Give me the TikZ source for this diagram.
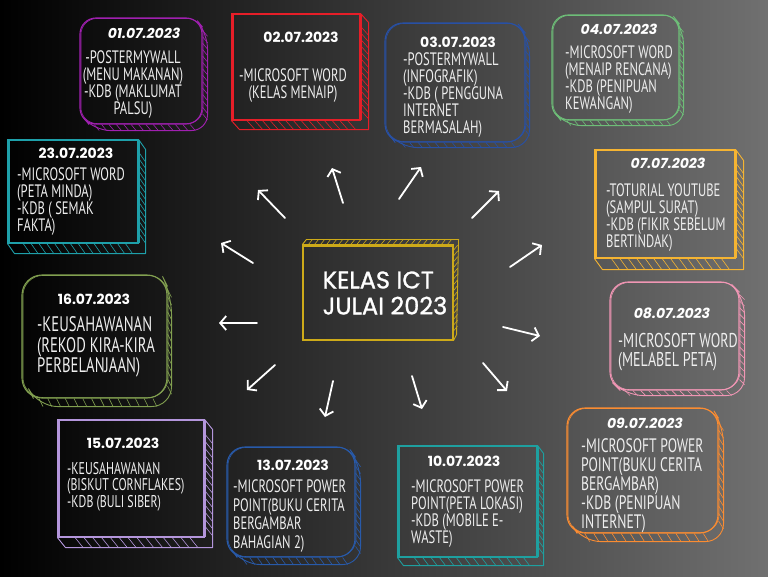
\documentclass[tikz,border=0pt]{standalone}
\usepackage{fontspec}
\usepackage{tikz}
\usetikzlibrary{calc,arrows.meta}
\newfontfamily\bodyfont[FakeStretch=0.7]{PT Sans}
\newfontfamily\datefont{Poppins}
\newfontfamily\titlefont[FakeBold=1.2]{Poppins}
\definecolor{bgright}{RGB}{112,112,112}
\definecolor{txt}{RGB}{238,238,238}
\definecolor{gold}{RGB}{205,170,25}
\definecolor{purple01}{RGB}{160,32,176}
\definecolor{red02}{RGB}{230,30,40}
\definecolor{blue03}{RGB}{40,80,165}
\definecolor{green04}{RGB}{110,190,120}
\definecolor{yellow07}{RGB}{245,180,50}
\definecolor{pink08}{RGB}{240,150,180}
\definecolor{orange09}{RGB}{250,140,50}
\definecolor{teal10}{RGB}{30,160,160}
\definecolor{blue13}{RGB}{40,90,170}
\definecolor{lilac15}{RGB}{180,150,220}
\definecolor{olive16}{RGB}{130,160,80}
\definecolor{teal23}{RGB}{30,160,170}

\newcommand\rimbox[5]{%
  \draw[#2, line width=.9pt, rounded corners=#5pt, line join=round]
    ($(#1.north east)+(0,#5*.6)$) -- ++(#3,#4) -- ($(#1.south east)+(#3,#4)$)
    -- ($(#1.south west)+(#3,#4)+(#5*.6,0)$) -- ($(#1.south west)+(#5*.6,0)$);
  \foreach \t in {.12,.18,...,.92}{
    \draw[#2, line width=.6pt] ($(#1.north east)!\t!(#1.south east)$) -- ++(#3,#4);
    \draw[#2, line width=.6pt] ($(#1.south west)!\t!(#1.south east)$) -- ++(#3,#4);
  }
  \draw[#2, line width=.6pt, rounded corners=#5pt]
    ($(#1.north west)+(1.5,1)$) rectangle ($(#1.south east)+(.5,-1)$);
}

\begin{document}
\begin{tikzpicture}[x=1pt,y=-1pt,
  card/.style={draw=#1, line width=1.1pt, inner sep=0pt},
  datelbl/.style={text=white, inner sep=0pt, font=\datefont\bfseries\fontsize{14}{16}\selectfont},
  datesl/.style={datelbl, font=\datefont\bfseries\itshape\fontsize{14}{16}\selectfont},
  body/.style={text=txt, align=left, inner sep=0pt, anchor=west, font=\bodyfont\fontsize{18}{17}\selectfont},
  arr/.style={white, line width=1.8pt, line cap=round, -{Straight Barb[length=6pt,width=14pt]}}]
  \useasboundingbox (0,0) rectangle (768,576);
  \shade[left color=black, right color=bgright] (0,0) rectangle (768,576);

  % centre
  \node[draw=gold, line width=1.1pt, inner sep=0pt, minimum width=150pt, minimum height=95pt] (hub) at (378,292.5) {};
  \draw[gold, line width=.9pt, line join=round] (hub.north west) -- ++(4,-5) -- ($(hub.north east)+(5,-5)$)
    -- ($(hub.south east)+(3,-6)$) -- (hub.south east);
  \foreach \t in {.04,.08,...,.97}
    \draw[gold, line width=.6pt] ($(hub.north west)!\t!(hub.north east)$) -- ++(4,-5);
  \foreach \t in {.06,.12,...,.95}
    \draw[gold, line width=.6pt] ($(hub.north east)!\t!(hub.south east)$) -- ++(4,-5);
  \draw[gold, line width=.6pt] ($(hub.north west)+(1,1.5)$) rectangle ($(hub.south east)+(-1,-.5)$);
  \node[text=white, align=left, inner sep=0pt, font=\titlefont\fontsize{24}{26}\selectfont] (title) at (385,293) {KELAS ICT\\JULAI 2023};

  % cards
  \node[card=purple01, rounded corners=16pt, minimum width=122pt, minimum height=106pt] (c0107) at (141,71) {};
  \rimbox{c0107}{purple01}{5}{6}{16}
  \node[card=red02, minimum width=128pt, minimum height=106pt] (c0207) at (296,67) {};
  \rimbox{c0207}{red02}{8}{9}{0}
  \node[card=blue03, rounded corners=18pt, minimum width=140pt, minimum height=119pt] (c0307) at (455,82.5) {};
  \rimbox{c0307}{blue03}{4}{5}{18}
  \node[card=green04, rounded corners=16pt, minimum width=127pt, minimum height=105pt] (c0407) at (615.5,67.5) {};
  \rimbox{c0407}{green04}{4}{5}{16}
  \node[card=yellow07, minimum width=140pt, minimum height=108pt] (c0707) at (665,204) {};
  \rimbox{c0707}{yellow07}{8}{11}{0}
  \node[card=pink08, rounded corners=18pt, minimum width=129pt, minimum height=108pt] (c0807) at (674.5,336) {};
  \rimbox{c0807}{pink08}{5}{5}{18}
  \node[card=orange09, rounded corners=18pt, minimum width=151pt, minimum height=125pt] (c0907) at (642.5,470.5) {};
  \rimbox{c0907}{orange09}{5}{8}{18}
  \node[card=teal10, minimum width=139pt, minimum height=111pt] (c1007) at (467.5,501.5) {};
  \rimbox{c1007}{teal10}{6}{8}{0}
  \node[card=blue13, rounded corners=18pt, minimum width=128pt, minimum height=110pt] (c1307) at (291,502) {};
  \rimbox{c1307}{blue13}{5}{7}{18}
  \node[card=lilac15, minimum width=146pt, minimum height=117pt] (c1507) at (131,478.5) {};
  \rimbox{c1507}{lilac15}{8}{10}{0}
  \node[card=olive16, rounded corners=20pt, minimum width=145pt, minimum height=123pt] (c1607) at (94.5,336.5) {};
  \rimbox{c1607}{olive16}{4}{8}{20}
  \node[card=teal23, minimum width=130pt, minimum height=103pt] (c2307) at (73,191.5) {};
  \rimbox{c2307}{teal23}{7}{10}{0}

  % dates
  \node[datesl] (d0107) at (144,33) {01.07.2023};
  \node[datelbl] (d0207) at (301,37) {02.07.2023};
  \node[datelbl] (d0307) at (458,42) {03.07.2023};
  \node[datesl] (d0407) at (619,29) {04.07.2023};
  \node[datesl] (d0707) at (668,163) {07.07.2023};
  \node[datesl] (d0807) at (672,313) {08.07.2023};
  \node[datesl] (d0907) at (645,423) {09.07.2023};
  \node[datelbl] (d1007) at (464,461) {10.07.2023};
  \node[datelbl] (d1307) at (293,465) {13.07.2023};
  \node[datelbl] (d1507) at (123,443) {15.07.2023};
  \node[datelbl] (d1607) at (94,299) {16.07.2023};
  \node[datelbl] (d2307) at (76,153) {23.07.2023};

  % texts
  \node[body, align=center, anchor=center] (t0107) at (133,84.5) {-POSTERMYWALL\\(MENU MAKANAN)\\-KDB (MAKLUMAT\\PALSU)};
  \node[body, align=center, anchor=center] (t0207) at (293,86) {-MICROSOFT WORD\\(KELAS MENAIP)};
  \node[body] (t0307) at (403,95.5) {-POSTERMYWALL\\(INFOGRAFIK)\\-KDB ( PENGGUNA\\INTERNET\\BERMASALAH)};
  \node[body] (t0407) at (565,80) {-MICROSOFT WORD\\(MENAIP RENCANA)\\-KDB (PENIPUAN\\KEWANGAN)};
  \node[body] (t0707) at (606,218) {-TOTURIAL YOUTUBE\\(SAMPUL SURAT)\\-KDB (FIKIR SEBELUM\\BERTINDAK)};
  \node[body, font=\bodyfont\fontsize{20}{19}\selectfont] (t0807) at (618,352.5) {-MICROSOFT WORD\\(MELABEL PETA)};
  \node[body, font=\bodyfont\fontsize{19.5}{19}\selectfont] (t0907) at (581,486) {-MICROSOFT POWER\\POINT(BUKU CERITA\\BERGAMBAR)\\-KDB (PENIPUAN\\INTERNET)};
  \node[body] (t1007) at (411,514) {-MICROSOFT POWER\\POINT(PETA LOKASI)\\-KDB (MOBILE E-\\WASTE)};
  \node[body, font=\bodyfont\fontsize{18}{18.7}\selectfont] (t1307) at (233,516) {-MICROSOFT POWER\\POINT(BUKU CERITA\\BERGAMBAR\\BAHAGIAN 2)};
  \node[body, font=\bodyfont\fontsize{17}{16.5}\selectfont] (t1507) at (67,486.5) {-KEUSAHAWANAN\\(BISKUT CORNFLAKES)\\-KDB (BULI SIBER)};
  \node[body, font=\bodyfont\fontsize{21}{20.5}\selectfont] (t1607) at (37,347) {-KEUSAHAWANAN\\(REKOD KIRA-KIRA\\PERBELANJAAN)};
  \node[body] (t2307) at (17,201.5) {-MICROSOFT WORD\\(PETA MINDA)\\-KDB ( SEMAK\\FAKTA)};

  % arrows
  \foreach \i/\tx/\ty/\hx/\hy in {1/285/218/258/190, 2/343/203/332/168, 3/399/199/421/167,
      4/472/218/499/191, 5/510/267/542/245, 6/503/327/540/336, 7/483/363/507/391,
      8/412/376/422/409, 9/333/381/325/417, 10/275/365/247/390, 11/257/323/219/323,
      12/253/263/221/243}{
    \coordinate (s\i) at (\tx,\ty);
    \coordinate (e\i) at (\hx,\hy);
    \draw[arr] (s\i) -- (e\i);
  }
\end{tikzpicture}
\end{document}
